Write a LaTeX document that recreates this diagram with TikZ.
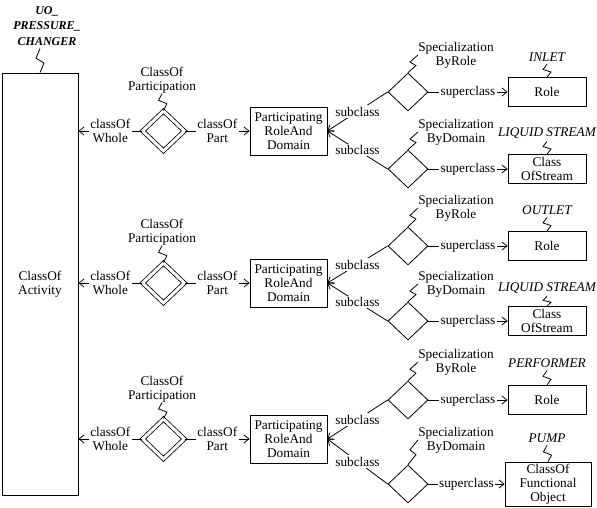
\documentclass[tikz,border=0pt]{standalone}
\usepackage{fontspec}
\setmainfont{Liberation Serif}
\usetikzlibrary{arrows.meta, positioning, shapes.geometric, calc}

% lightning link from a name tag to its object
\newcommand{\taglink}[2]{\draw (#1) -- ($(#1)!0.4!(#2)+(-4,0)$) -- ($(#1)!0.6!(#2)+(4,0)$) -- (#2);}

\begin{document}
\begin{tikzpicture}[
    x=1pt, y=-1pt, line width=0.8pt,
    every node/.style={font=\fontsize{13.3}{14}\selectfont},
    cls/.style={draw, rectangle, align=center, inner sep=0pt},
    rel/.style={draw, diamond, minimum width=40pt, minimum height=38pt, inner sep=0pt},
    part/.style={draw, diamond, double, double distance=3pt, minimum width=42pt, minimum height=40pt, inner sep=0pt},
    txt/.style={align=center, inner sep=0pt},
    lbl/.style={align=center, inner sep=1.5pt, fill=white},
    tag/.style={font=\fontsize{13.3}{14}\selectfont\itshape, align=center, inner sep=0pt, outer sep=3pt},
    arr/.style={-{Straight Barb[length=5pt, width=8pt]}}
]
\useasboundingbox (0,0) rectangle (597,508);

% activity
\node[cls, minimum width=76pt, minimum height=422pt] (act) at (40,284) {ClassOf\\Activity};
\node[tag, font=\fontsize{12}{15.5}\selectfont\bfseries\itshape] (uo) at (47,26) {UO\_\\PRESSURE\_\\CHANGER};
\taglink{uo.south -| act.north}{act.north}

% row 1 - inlet
\node[part] (cop1) at (163.5,131) {};
\node[txt] (copl1) at (162,80) {ClassOf\\Participation};
\node[cls, minimum width=77pt, minimum height=48pt] (prd1) at (288.5,131) {Participating\\RoleAnd\\Domain};
\node[rel] (sbr1) at (408,92) {};
\node[rel] (sbd1) at (408,169) {};
\node[txt] (sbrl1) at (456,55) {Specialization\\ByRole};
\node[txt] (sbdl1) at (456,132) {Specialization\\ByDomain};
\node[cls, minimum width=78pt, minimum height=29pt] (role1) at (547,92) {Role};
\node[cls, minimum width=78pt, minimum height=29pt] (strm1) at (547,169) {Class\\OfStream};
\node[tag] (inlet) at (547,57) {INLET};
\node[tag] (liq1) at (547,133) {LIQUID STREAM};

\draw[arr] (cop1.west) -- node[lbl] {classOf\\Whole} (act.east |- cop1);
\draw[arr] (cop1.east) -- node[lbl] {classOf\\Part} (prd1.west);
\draw[arr] (sbr1.west) -- node[lbl] {subclass} (prd1.east);
\draw[arr] (sbd1.west) -- node[lbl] {subclass} (prd1.east);
\draw[arr] (sbr1.east) -- node[lbl] {superclass} (role1.west);
\draw[arr] (sbd1.east) -- node[lbl] {superclass} (strm1.west);
\taglink{copl1.south}{cop1.north}
\taglink{sbrl1.west}{sbr1.north}
\taglink{sbdl1.west}{sbd1.north}
\taglink{inlet.south}{role1.north}
\taglink{liq1.south}{strm1.north}

% row 2 - outlet
\node[part] (cop2) at (163.5,283) {};
\node[txt] (copl2) at (162,232) {ClassOf\\Participation};
\node[cls, minimum width=77pt, minimum height=48pt] (prd2) at (288.5,283) {Participating\\RoleAnd\\Domain};
\node[rel] (sbr2) at (408,246) {};
\node[rel] (sbd2) at (408,321) {};
\node[txt] (sbrl2) at (456,208) {Specialization\\ByRole};
\node[txt] (sbdl2) at (456,284) {Specialization\\ByDomain};
\node[cls, minimum width=78pt, minimum height=29pt] (role2) at (547,246) {Role};
\node[cls, minimum width=78pt, minimum height=29pt] (strm2) at (547,321) {Class\\OfStream};
\node[tag] (outlet) at (547,210) {OUTLET};
\node[tag] (liq2) at (547,288) {LIQUID STREAM};

\draw[arr] (cop2.west) -- node[lbl] {classOf\\Whole} (act.east |- cop2);
\draw[arr] (cop2.east) -- node[lbl] {classOf\\Part} (prd2.west);
\draw[arr] (sbr2.west) -- node[lbl] {subclass} (prd2.east);
\draw[arr] (sbd2.west) -- node[lbl] {subclass} (prd2.east);
\draw[arr] (sbr2.east) -- node[lbl] {superclass} (role2.west);
\draw[arr] (sbd2.east) -- node[lbl] {superclass} (strm2.west);
\taglink{copl2.south}{cop2.north}
\taglink{sbrl2.west}{sbr2.north}
\taglink{sbdl2.west}{sbd2.north}
\taglink{outlet.south}{role2.north}
\taglink{liq2.south}{strm2.north}

% row 3 - performer
\node[part] (cop3) at (163.5,439) {};
\node[txt] (copl3) at (162,389) {ClassOf\\Participation};
\node[cls, minimum width=77pt, minimum height=48pt] (prd3) at (288.5,439) {Participating\\RoleAnd\\Domain};
\node[rel] (sbr3) at (408,400) {};
\node[rel] (sbd3) at (408,484) {};
\node[txt] (sbrl3) at (456,362) {Specialization\\ByRole};
\node[txt] (sbdl3) at (456,440) {Specialization\\ByDomain};
\node[cls, minimum width=78pt, minimum height=29pt] (role3) at (547,400) {Role};
\node[cls, minimum width=86pt, minimum height=44pt] (fobj) at (548,484) {ClassOf\\Functional\\Object};
\node[tag] (perf) at (547,363) {PERFORMER};
\node[tag] (pump) at (547,438) {PUMP};

\draw[arr] (cop3.west) -- node[lbl] {classOf\\Whole} (act.east |- cop3);
\draw[arr] (cop3.east) -- node[lbl] {classOf\\Part} (prd3.west);
\draw[arr] (sbr3.west) -- node[lbl] {subclass} (prd3.east);
\draw[arr] (sbd3.west) -- node[lbl] {subclass} (prd3.east);
\draw[arr] (sbr3.east) -- node[lbl] {superclass} (role3.west);
\draw[arr] (sbd3.east) -- node[lbl] {superclass} (fobj.west);
\taglink{copl3.south}{cop3.north}
\taglink{sbrl3.west}{sbr3.north}
\taglink{sbdl3.west}{sbd3.north}
\taglink{perf.south}{role3.north}
\taglink{pump.south}{fobj.north}
\end{tikzpicture}
\end{document}
